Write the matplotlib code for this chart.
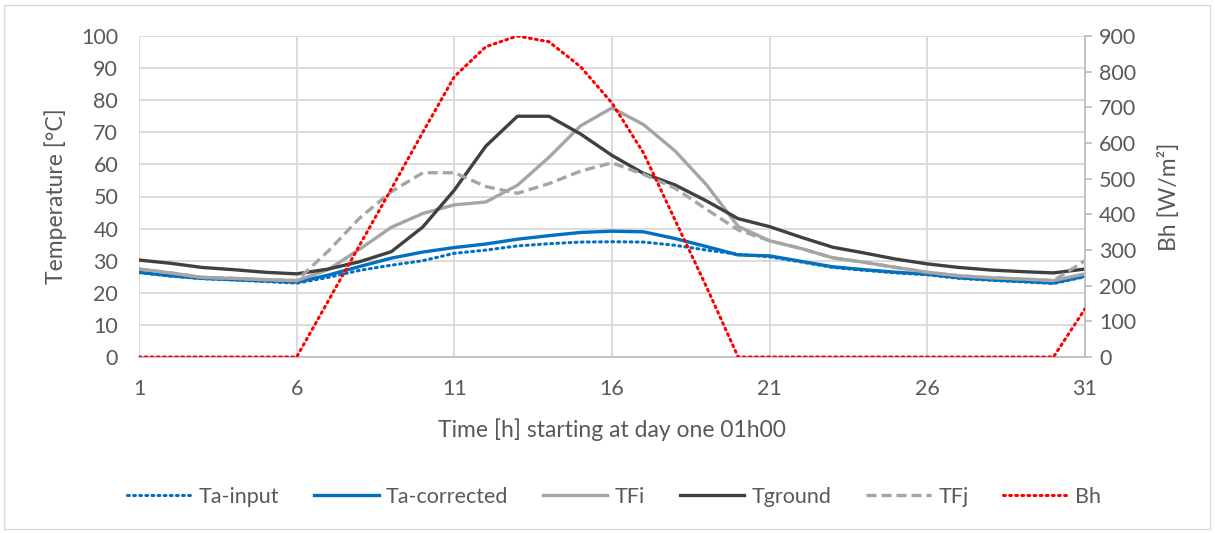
import numpy as np
import matplotlib.pyplot as plt
from matplotlib.lines import Line2D

plt.rcParams['font.family'] = ['Lato', 'DejaVu Sans']

# ==========================================
# data
# ==========================================
hours = list(range(1, 32))

ta_input = [26.3, 25.2, 24.4, 24.0, 23.5, 23.0, 24.8, 27.0, 28.6, 30.0, 32.3,
            33.3, 34.6, 35.3, 35.8, 35.9, 35.8, 34.8, 33.3, 32.0, 31.2,
            29.6, 27.9, 27.0, 26.2, 25.6, 24.5, 23.9, 23.4, 22.9, 25.0]
ta_corrected = [26.4, 25.3, 24.5, 24.1, 23.7, 23.3, 25.5, 28.2, 30.8, 32.7, 34.1,
                35.2, 36.7, 37.8, 38.8, 39.2, 39.0, 36.9, 34.4, 31.8, 31.5,
                29.8, 28.1, 27.2, 26.4, 25.8, 24.7, 24.1, 23.6, 23.1, 25.2]
tfi = [27.4, 26.2, 24.8, 24.5, 24.1, 23.8, 27.2, 33.6, 40.4, 44.7, 47.4,
       48.3, 53.5, 62.2, 72.0, 77.6, 72.4, 64.2, 53.6, 40.7, 36.2,
       33.8, 30.9, 29.5, 27.9, 26.4, 25.3, 24.7, 24.3, 23.8, 25.9]
tground = [30.2, 29.2, 27.9, 27.2, 26.4, 25.9, 27.4, 29.7, 32.8, 40.5, 52.0,
           65.7, 75.0, 75.0, 69.5, 62.8, 57.2, 53.6, 48.6, 43.1, 40.6,
           37.3, 34.2, 32.4, 30.5, 29.0, 27.9, 27.1, 26.6, 26.2, 27.4]
tfj = [27.4, 26.2, 24.8, 24.5, 24.1, 23.8, 33.0, 43.3, 51.5, 57.4, 57.4,
       53.1, 51.0, 54.0, 57.9, 60.5, 56.9, 52.6, 46.0, 39.6, 36.2,
       33.8, 30.9, 29.5, 27.9, 26.4, 25.3, 24.7, 24.3, 23.8, 30.0]
bh = [0, 0, 0, 0, 0, 0, 157, 314, 471, 630, 786,
      870, 900, 884, 814, 712, 572, 384, 196, 0, 0,
      0, 0, 0, 0, 0, 0, 0, 0, 0, 135]

x_ticks = [1, 6, 11, 16, 21, 26, 31]

TXT = '#595959'
GRID = '#d9d9d9'
FS = 15.5

fig = plt.figure(figsize=(12.15, 5.33), dpi=100)
ax = fig.add_axes([139 / 1215, 1 - 357 / 533, (1085 - 139) / 1215, (357 - 36) / 533])
ax2 = ax.twinx()

# outer chart border
fig.patches.append(plt.Rectangle((4 / 1215, 4 / 533), 1 - 9 / 1215, 1 - 9 / 533,
                                 transform=fig.transFigure, fill=False,
                                 edgecolor='#d9d9d9', linewidth=1))

dot = (0, (0.6, 1.4))
ax.plot(hours, ta_input, color='#0070C0', lw=2.2, linestyle=dot,
        dash_capstyle='round', zorder=3)
ax.plot(hours, ta_corrected, color='#0070C0', lw=2.4, zorder=3)
ax.plot(hours, tfi, color='#A5A5A5', lw=2.4, zorder=3)
ax.plot(hours, tground, color='#404040', lw=2.4, zorder=3)
ax.plot(hours, tfj, color='#A5A5A5', lw=2.4, linestyle=(0, (3, 1.5)), zorder=3)
ax2.plot(hours, bh, color='#FF0000', lw=2.2, linestyle=dot,
         dash_capstyle='round', zorder=3)

ax.set_xlim(1, 31)
ax.set_ylim(0, 100)
ax2.set_ylim(0, 900)
ax.set_xticks(x_ticks)
ax.set_yticks(np.arange(0, 101, 10))
ax2.set_yticks(np.arange(0, 901, 100))

ax.grid(True, color=GRID, lw=1.3)
ax.set_axisbelow(True)
for s in ['top', 'left']:
    ax.spines[s].set_visible(False)
    ax2.spines[s].set_visible(False)
ax.spines['right'].set_visible(False)
ax.spines['bottom'].set_color('#bfbfbf')
ax.spines['bottom'].set_linewidth(1.3)
ax2.spines['bottom'].set_visible(False)
ax2.spines['right'].set_color('#bfbfbf')
ax2.spines['right'].set_linewidth(1.3)

ax.tick_params(axis='y', colors=TXT, labelsize=FS, length=0, pad=15)
ax.tick_params(axis='x', colors=TXT, labelsize=FS, length=0, pad=16)
ax2.tick_params(axis='y', colors=TXT, labelsize=FS, length=5, width=1.3,
                pad=5, color='#bfbfbf')

ax.set_ylabel('Temperature [°C]', color=TXT, fontsize=FS + 1, labelpad=10)
ax2.set_ylabel('Bh [W/m²]', color=TXT, fontsize=FS + 1, labelpad=16)
ax.set_xlabel('Time [h] starting at day one 01h00', color=TXT, fontsize=FS + 1,
              labelpad=14)

handles = [
    Line2D([], [], color='#0070C0', lw=2.2, linestyle=dot, dash_capstyle='round'),
    Line2D([], [], color='#0070C0', lw=2.4),
    Line2D([], [], color='#A5A5A5', lw=2.4),
    Line2D([], [], color='#404040', lw=2.4),
    Line2D([], [], color='#A5A5A5', lw=2.4, linestyle=(0, (3, 1.5))),
    Line2D([], [], color='#FF0000', lw=2.2, linestyle=dot, dash_capstyle='round'),
]
labels = ['Ta-input', 'Ta-corrected', 'TFi', 'Tground', 'TFj', 'Bh']
leg = fig.legend(handles, labels, loc='center', bbox_to_anchor=(614 / 1215, 1 - 497 / 533),
                 ncol=6, frameon=False, fontsize=FS, handlelength=3.0,
                 handletextpad=0.35, columnspacing=1.6)
for t in leg.get_texts():
    t.set_color(TXT)

fig.savefig('out.png', dpi=100)
